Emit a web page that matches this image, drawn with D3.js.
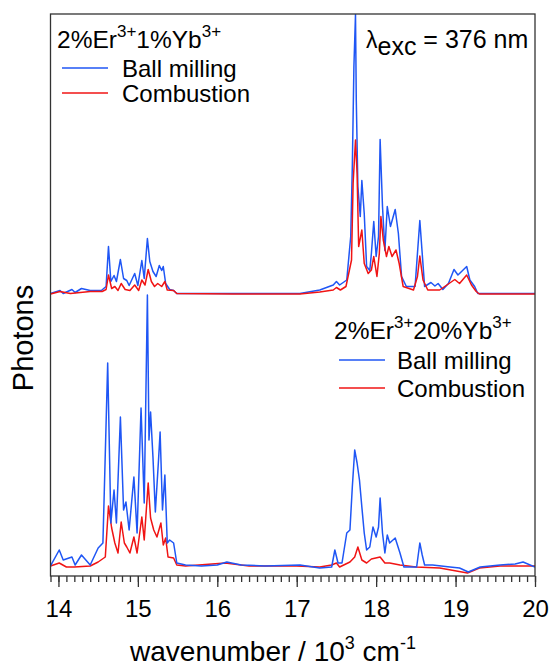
<!DOCTYPE html>
<html><head><meta charset="utf-8">
<script src="https://cdn.jsdelivr.net/npm/d3@7"></script>
<style>
html,body{margin:0;padding:0;background:#fff;}
text{font-family:"Liberation Sans",Arial,sans-serif;fill:#000;}
</style></head>
<body><svg id="chart" width="550" height="666"></svg>
<script>
// ---- data (wavenumber in 10^3 cm^-1, intensity in arbitrary units) ----
const xTicks = [14, 15, 16, 17, 18, 19, 20];
const upperOffset = 272.5;

const lowerBlueWn = [13.90,14.01,14.06,14.17,14.21,14.29,14.40,14.50,14.56,14.62,14.66,14.70,14.73,14.78,14.82,14.85,14.89,14.95,14.99,15.04,15.08,15.12,15.14,15.16,15.19,15.22,15.26,15.28,15.31,15.34,15.37,15.40,15.45,15.49,15.60,15.80,16.00,16.12,16.30,16.60,17.04,17.29,17.44,17.48,17.52,17.57,17.63,17.67,17.70,17.73,17.76,17.79,17.82,17.85,17.88,17.92,17.96,18.00,18.03,18.05,18.08,18.11,18.14,18.17,18.24,18.30,18.35,18.51,18.55,18.58,18.61,18.71,18.93,19.05,19.16,19.31,19.56,19.75,19.85,20.00];
const lowerBlueI  = [0,16,6,9,1,11,1,18,23,203,43,76,43,149,56,64,36,89,33,158,63,271,126,154,109,54,106,134,56,91,23,26,23,3,1,0,1,4,1,0,1,-2,-1,16,3,3,33,36,79,116,103,86,59,33,16,19,39,29,39,68,33,13,31,23,28,13,-1,-1,23,11,1,1,-1,-2,-6,-1,1,2,4,-1];

const lowerRedWn = [13.90,14.01,14.10,14.20,14.40,14.50,14.59,14.63,14.67,14.71,14.75,14.79,14.83,14.86,14.90,14.95,14.99,15.05,15.08,15.13,15.16,15.20,15.24,15.29,15.32,15.35,15.38,15.45,15.49,15.60,16.10,16.40,17.00,17.29,17.44,17.50,17.54,17.67,17.73,17.77,17.82,17.88,17.94,18.05,18.11,18.17,18.30,18.50,18.80,19.15,19.30,19.56,19.85,20.00];
const lowerRedI  = [0,3,-1,-1,0,4,9,60,38,23,13,44,23,19,13,29,13,49,26,83,48,36,29,43,21,28,9,8,1,0,3,0,0,-1,1,3,-1,4,9,19,6,3,7,9,3,3,1,-1,-2,-7,-2,0,0,0];

const upperBlueWn = [13.90,14.02,14.06,14.17,14.21,14.29,14.40,14.54,14.60,14.63,14.66,14.70,14.73,14.78,14.82,14.86,14.89,14.96,15.00,15.05,15.08,15.12,15.15,15.19,15.23,15.27,15.30,15.32,15.35,15.40,15.45,15.49,16.20,17.04,17.29,17.46,17.50,17.54,17.63,17.68,17.70,17.72,17.74,17.75,17.77,17.80,17.82,17.85,17.88,17.92,17.94,17.97,18.00,18.03,18.05,18.08,18.11,18.14,18.18,18.24,18.28,18.32,18.38,18.49,18.52,18.55,18.58,18.61,18.69,18.74,18.78,18.84,18.91,18.98,19.03,19.14,19.18,19.24,19.28,20.00];
const upperBlueI  = [0,3,0,4,1,5,3,3,7,47,12,18,12,34,15,13,8,20,8,33,15,55,32,22,17,28,23,27,10,4,3,0,0,0,3.5,8.5,12,8.5,13.5,57,127,227,279,193,107,77,113,80,27,23,40,72,37,57,154,87,43,87,67,84,60,17,7,7,40,73,40,7,11,7.5,10,4,10,24,18.5,27,13.5,7,0,0];

const upperRedWn = [13.90,14.02,14.15,14.40,14.55,14.60,14.63,14.67,14.71,14.75,14.79,14.84,14.90,14.96,15.01,15.05,15.09,15.13,15.17,15.21,15.25,15.30,15.34,15.37,15.45,15.49,16.20,17.04,17.29,17.46,17.50,17.55,17.62,17.69,17.71,17.74,17.76,17.78,17.82,17.85,17.90,17.94,17.97,18.01,18.04,18.06,18.09,18.13,18.16,18.20,18.25,18.29,18.34,18.47,18.52,18.55,18.59,18.65,18.80,18.99,19.05,19.14,19.20,19.26,19.30,20.00];
const upperRedI  = [-0.5,2,0,2,2,4,18.5,5,7,3,10,4,3,8.5,3,13.5,8.5,24,12,7,10,7,12,3.5,3,0,-0.5,-0.5,1.5,3.5,6,3.5,7,33.5,110,153.5,120,47,63.5,30,20,23.5,37,17,40,77,53.5,37,47,37,43.5,30,7,3.5,17,37.5,13.5,3.5,3.5,14,10,18.5,8.5,2,-0.5,-0.5];

const seriesNames = ["Ball milling", "Combustion"];
const seriesColors = ["#1f56f5", "#f01414"];

// ---- layout ----
const svg = d3.select("#chart");
const L = 50.5, R = 535, T = 14, B = 576;
const x = d3.scaleLinear().domain([13.9, 20.0]).range([L, R]);
const y = d3.scaleLinear().domain([-10, 552]).range([B, T]);

svg.append("defs").append("clipPath").attr("id","clip")
  .append("rect").attr("x",L).attr("y",T).attr("width",R-L).attr("height",B-T);

const line = d3.line().x(d => x(d[0])).y(d => y(d[1]));
function zipS(wn, I, off){ return wn.map((w,i)=>[w, I[i] + off]); }

const g = svg.append("g").attr("clip-path","url(#clip)");
const curves = [
  [lowerRedWn, lowerRedI, 0, 1],
  [lowerBlueWn, lowerBlueI, 0, 0],
  [upperBlueWn, upperBlueI, upperOffset, 0],
  [upperRedWn, upperRedI, upperOffset, 1]
];
curves.forEach(c => {
  g.append("path").datum(zipS(c[0], c[1], c[2]))
    .attr("fill","none").attr("stroke", seriesColors[c[3]])
    .attr("stroke-width",1.5).attr("stroke-linejoin","round")
    .attr("d", line);
});

// frame
svg.append("rect").attr("x",L).attr("y",T).attr("width",R-L).attr("height",B-T)
  .attr("fill","none").attr("stroke","#333").attr("stroke-width",1.3);

// axes
const minor = d3.range(139, 201).map(v => v/10);
const axMinor = svg.append("g").attr("transform",`translate(0,${B})`)
  .call(d3.axisBottom(x).tickValues(minor).tickSize(6).tickFormat(""));
axMinor.select(".domain").remove();
const axMajor = svg.append("g").attr("transform",`translate(0,${B})`)
  .call(d3.axisBottom(x).tickValues(xTicks).tickSize(11).tickPadding(13).tickFormat(d3.format("d")));
axMajor.select(".domain").remove();
svg.selectAll(".tick line").attr("stroke","#333").attr("stroke-width",1.3);
axMajor.selectAll("text").attr("font-size",24).attr("font-family","Liberation Sans, Arial, sans-serif").attr("fill","#000");

// axis titles
const xt = svg.append("text").attr("x",273).attr("y",661).attr("text-anchor","middle").attr("font-size",28);
xt.append("tspan").text("wavenumber / 10");
xt.append("tspan").attr("font-size",18).attr("dy",-12).text("3");
xt.append("tspan").attr("dy",12).text(" cm");
xt.append("tspan").attr("font-size",18).attr("dy",-12).text("-1");

svg.append("text").attr("transform","translate(33,338) rotate(-90)")
  .attr("text-anchor","middle").attr("font-size",29).text("Photons");

// legends
function legend(x0, yTitle, lx0, lx1, tx, yl1, yl2, dopant){
  const t = svg.append("text").attr("x",x0).attr("y",yTitle).attr("font-size",24.5);
  t.append("tspan").text("2%Er");
  t.append("tspan").attr("font-size",17).attr("dy",-11).text("3+");
  t.append("tspan").attr("dy",11).text(dopant + "%Yb");
  t.append("tspan").attr("font-size",17).attr("dy",-11).text("3+");
  [yl1, yl2].forEach((yy,i) => {
    svg.append("line").attr("x1",lx0).attr("x2",lx1).attr("y1",yy).attr("y2",yy)
      .attr("stroke",seriesColors[i]).attr("stroke-width",1.5);
    svg.append("text").attr("x",tx).attr("y",yy+8.5).attr("font-size",24).text(seriesNames[i]);
  });
}
legend(57, 48, 62, 108, 122, 68, 93, "1");
legend(334, 339, 339, 385, 397, 360, 388, "20");

const lam = svg.append("text").attr("x",366).attr("y",48).attr("font-size",25);
lam.append("tspan").attr("font-size",23).text("λ");
lam.append("tspan").attr("dy",7).text("exc");
lam.append("tspan").attr("dy",-7).text(" = 376 nm");
</script></body></html>
